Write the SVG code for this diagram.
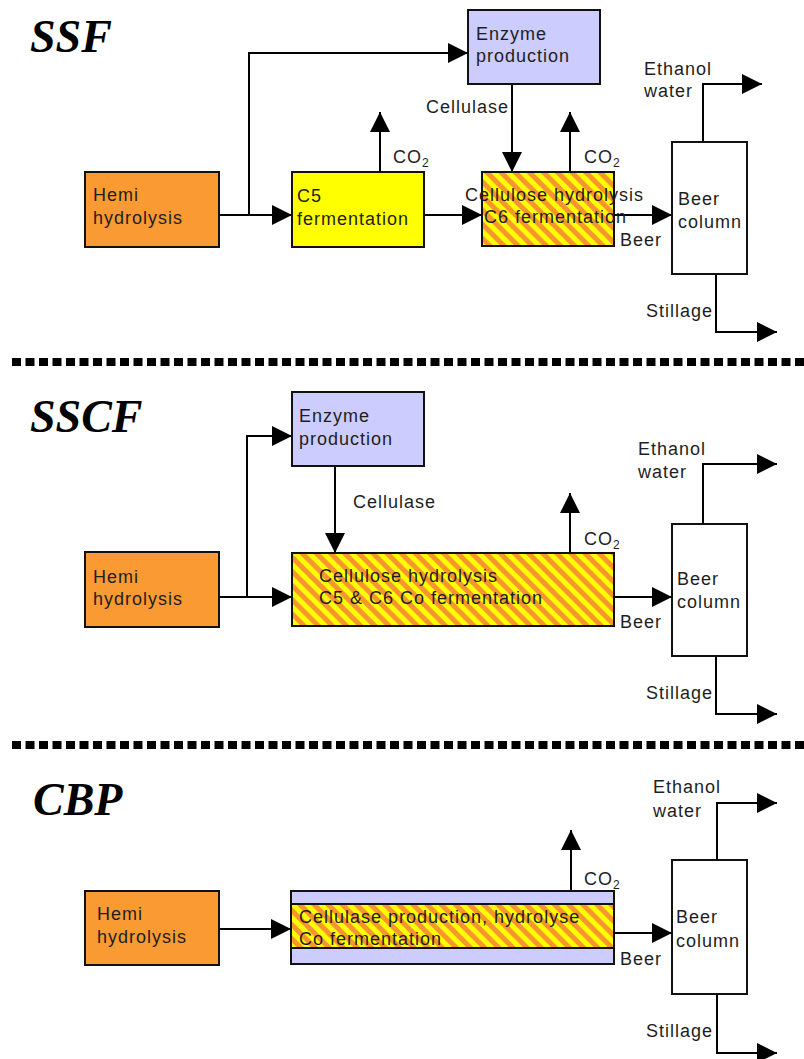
<svg xmlns="http://www.w3.org/2000/svg" width="804" height="1059" viewBox="0 0 804 1059">
  <defs>
    <pattern id="stripes" patternUnits="userSpaceOnUse" width="10" height="10" patternTransform="rotate(-45)">
      <rect width="10" height="10" fill="#FFFF00"/>
      <rect width="5" height="10" fill="#F7962F"/>
    </pattern>
    <marker id="arrow" markerUnits="userSpaceOnUse" markerWidth="21" markerHeight="21" refX="20" refY="10" orient="auto" viewBox="0 0 21 21">
      <path d="M0,0 L20,10 L0,20 Z" fill="#000"/>
    </marker>
    <style>
      .title { font-family: "Liberation Serif", "Times New Roman", serif; font-weight: bold; font-style: italic; font-size: 46px; fill: #000; }
      .lbl { font-family: "Liberation Sans", Arial, sans-serif; font-size: 18px; letter-spacing: 1px; fill: #1e1e1e; }
      .sub { font-size: 12px; }
      .box { stroke: #111; stroke-width: 2; }
      .hemi { fill: #F99A33; }
      .enz { fill: #CCCCFF; }
      .c5 { fill: #FFFF00; }
      .mix { fill: url(#stripes); }
      .col { fill: #FFFFFF; }
      .conn path { fill: none; stroke: #000; stroke-width: 2; }
      .arr { marker-end: url(#arrow); }
      .sep { stroke: #000; stroke-width: 8; stroke-dasharray: 9 4.5; }
    </style>
  </defs>

  <rect width="804" height="1059" fill="#FFFFFF"/>

  <!-- section titles -->
  <text class="title" x="30" y="52">SSF</text>
  <text class="title" x="30" y="432">SSCF</text>
  <text class="title" x="33" y="815">CBP</text>

  <!-- section separators -->
  <line class="sep" x1="12" y1="362" x2="804" y2="362"/>
  <line class="sep" x1="12" y1="745" x2="804" y2="745"/>

  <!-- connectors -->
  <g id="connectors" class="conn">
    <!-- SSF -->
    <path class="arr" d="M219,215 H292"/>
    <path class="arr" d="M249,215 V53 H468"/>
    <path class="arr" d="M380,172 V112"/>
    <path class="arr" d="M424,215 H482"/>
    <path class="arr" d="M512,84 V172"/>
    <path class="arr" d="M570,172 V112"/>
    <path class="arr" d="M614,215 H672"/>
    <path class="arr" d="M703,142 V84 H762"/>
    <path class="arr" d="M716,274 V332 H777"/>
    <!-- SSCF -->
    <path class="arr" d="M219,597 H292"/>
    <path class="arr" d="M247,597 V436 H292"/>
    <path class="arr" d="M335,466 V553"/>
    <path class="arr" d="M570,553 V493"/>
    <path class="arr" d="M614,597 H672"/>
    <path class="arr" d="M703,524 V464 H777"/>
    <path class="arr" d="M716,656 V714 H777"/>
    <!-- CBP -->
    <path class="arr" d="M219,929 H291"/>
    <path class="arr" d="M571,891 V830"/>
    <path class="arr" d="M614,933 H672"/>
    <path class="arr" d="M717,860 V803 H777"/>
    <path class="arr" d="M717,994 V1053 H777"/>
  </g>

  <!-- ===== SSF ===== -->
  <g id="ssf-hemi">
    <rect class="box hemi" x="85" y="172" width="134" height="75"/>
    <text class="lbl" x="93" y="201">Hemi</text>
    <text class="lbl" x="93" y="224">hydrolysis</text>
  </g>
  <g id="ssf-c5">
    <rect class="box c5" x="292" y="172" width="132" height="75"/>
    <text class="lbl" x="297" y="202">C5</text>
    <text class="lbl" x="297" y="225">fermentation</text>
  </g>
  <g id="ssf-enzyme">
    <rect class="box enz" x="468" y="10" width="132" height="74"/>
    <text class="lbl" x="476" y="40">Enzyme</text>
    <text class="lbl" x="476" y="62">production</text>
  </g>
  <g id="ssf-ssf">
    <rect class="box mix" x="482" y="172" width="132" height="74"/>
    <text class="lbl" x="465" y="201">Cellulose hydrolysis</text>
    <text class="lbl" x="484" y="223">C6 fermentation</text>
  </g>
  <g id="ssf-column">
    <rect class="box col" x="672" y="142" width="75" height="132"/>
    <text class="lbl" x="678" y="205">Beer</text>
    <text class="lbl" x="678" y="228">column</text>
  </g>
  <g id="ssf-labels">
    <text class="lbl" x="393" y="163">CO<tspan class="sub" dy="4">2</tspan></text>
    <text class="lbl" x="584" y="163">CO<tspan class="sub" dy="4">2</tspan></text>
    <text class="lbl" x="426" y="113">Cellulase</text>
    <text class="lbl" x="620" y="246">Beer</text>
    <text class="lbl" x="644" y="75">Ethanol</text>
    <text class="lbl" x="644" y="97">water</text>
    <text class="lbl" x="646" y="317">Stillage</text>
  </g>

  <!-- ===== SSCF ===== -->
  <g id="sscf-hemi">
    <rect class="box hemi" x="85" y="552" width="134" height="75"/>
    <text class="lbl" x="93" y="583">Hemi</text>
    <text class="lbl" x="93" y="605">hydrolysis</text>
  </g>
  <g id="sscf-enzyme">
    <rect class="box enz" x="292" y="392" width="132" height="74"/>
    <text class="lbl" x="299" y="422">Enzyme</text>
    <text class="lbl" x="299" y="445">production</text>
  </g>
  <g id="sscf-sscf">
    <rect class="box mix" x="292" y="553" width="322" height="73"/>
    <text class="lbl" x="319" y="582">Cellulose hydrolysis</text>
    <text class="lbl" x="319" y="604">C5 &amp; C6 Co fermentation</text>
  </g>
  <g id="sscf-column">
    <rect class="box col" x="672" y="524" width="75" height="132"/>
    <text class="lbl" x="677" y="585">Beer</text>
    <text class="lbl" x="677" y="608">column</text>
  </g>
  <g id="sscf-labels">
    <text class="lbl" x="353" y="508">Cellulase</text>
    <text class="lbl" x="584" y="545">CO<tspan class="sub" dy="4">2</tspan></text>
    <text class="lbl" x="620" y="628">Beer</text>
    <text class="lbl" x="638" y="455">Ethanol</text>
    <text class="lbl" x="638" y="478">water</text>
    <text class="lbl" x="646" y="699">Stillage</text>
  </g>

  <!-- ===== CBP ===== -->
  <g id="cbp-hemi">
    <rect class="box hemi" x="85" y="891" width="134" height="74"/>
    <text class="lbl" x="97" y="920">Hemi</text>
    <text class="lbl" x="97" y="943">hydrolysis</text>
  </g>
  <g id="cbp-cbp">
    <rect class="box enz" x="291" y="891" width="323" height="73"/>
    <rect class="box mix" x="291" y="904" width="323" height="44"/>
    <text class="lbl" x="299" y="923">Cellulase production, hydrolyse</text>
    <text class="lbl" x="299" y="945">Co fermentation</text>
  </g>
  <g id="cbp-column">
    <rect class="box col" x="672" y="860" width="75" height="134"/>
    <text class="lbl" x="676" y="923">Beer</text>
    <text class="lbl" x="676" y="947">column</text>
  </g>
  <g id="cbp-labels">
    <text class="lbl" x="584" y="885">CO<tspan class="sub" dy="4">2</tspan></text>
    <text class="lbl" x="620" y="965">Beer</text>
    <text class="lbl" x="653" y="793">Ethanol</text>
    <text class="lbl" x="653" y="817">water</text>
    <text class="lbl" x="646" y="1037">Stillage</text>
  </g>
</svg>
